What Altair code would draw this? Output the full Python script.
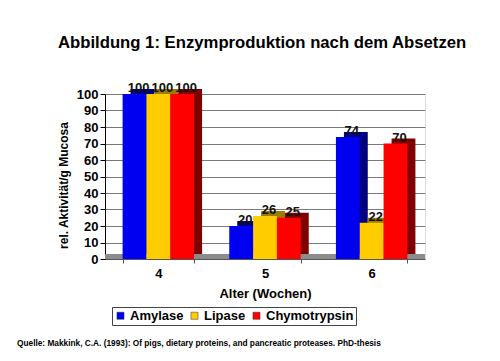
import altair as alt
import pandas as pd

groups = ["4", "5", "6"]
enzymes = ["Amylase", "Lipase", "Chymotrypsin"]
amylase = [100, 20, 74]
lipase = [100, 26, 22]
chymotrypsin = [100, 25, 70]

front_colors = ["#0000f0", "#ffcc00", "#ff0000"]
side_colors = ["#000080", "#9c7c00", "#800000"]

title_text = "Abbildung 1: Enzymproduktion nach dem Absetzen"
source_text = "Quelle: Makkink, C.A. (1993): Of pigs, dietary proteins, and pancreatic proteases. PhD-thesis"

rows = []
for e, vals, dc in zip(enzymes, [amylase, lipase, chymotrypsin], side_colors):
    for g, v in zip(groups, vals):
        rows.append({"group": g, "enzyme": e, "value": v, "dark": dc})
df = pd.DataFrame(rows)

FONT = "Liberation Sans"
W, H = 320, 165
P_IN, P_OUT = 0.33, 0.165
step = W / (len(groups) - P_IN + 2 * P_OUT)
band = step * (1 - P_IN)
DEPTH_X = 8

x_enc = alt.X("group:N", sort=groups,
              scale=alt.Scale(paddingInner=P_IN, paddingOuter=P_OUT),
              axis=alt.Axis(title="Alter (Wochen)", labelAngle=0, labelFontSize=13,
                            labelFontWeight="bold", labelColor="#000", labelPadding=4,
                            titleFontSize=13, titleFontWeight="bold", titleColor="#000",
                            titlePadding=7, tickBand="extent", tickSize=4,
                            tickColor="#555", domainColor="#555", grid=False))


def xo(shift):
    return alt.XOffset("enzyme:N", sort=enzymes,
                       scale=alt.Scale(type="band", paddingInner=0, paddingOuter=0,
                                       range=[shift, band + shift]))


y_scale = alt.Scale(domain=[0, 100], nice=False)
y_axis = alt.Axis(title="rel. Aktivität/g Mucosa", values=list(range(0, 101, 10)),
                  labelOverlap=False, tickCount=11, grid=True,
                  gridColor="#7a7a7a", gridWidth=1, gridOpacity=1,
                  labelFontSize=13, labelFontWeight="bold", labelColor="#000",
                  tickSize=5, tickColor="#000", domainColor="#000",
                  titleFontSize=12, titleFontWeight="bold",
                  titleColor="#000", titleAngle=-90, titleX=-38, titleY=91,
                  titleBaseline="alphabetic", titleAlign="center")
y_enc = alt.Y("value:Q", scale=y_scale, axis=y_axis)

base = alt.Chart(df)

floor = base.mark_rule(color="#8c8c8c", strokeWidth=5, yOffset=-2.5).encode(
    y=alt.Y(datum=0, scale=y_scale, axis=y_axis))

side = base.mark_bar(yOffset=-5).encode(
    x=x_enc, xOffset=xo(DEPTH_X), y=y_enc,
    color=alt.Color("dark:N", scale=None))

front = base.mark_bar().encode(
    x=x_enc, xOffset=xo(0), y=y_enc,
    color=alt.Color("enzyme:N", sort=enzymes,
                    scale=alt.Scale(domain=enzymes, range=front_colors),
                    legend=alt.Legend(title=None, orient="none", legendX=7, legendY=213,
                                      direction="horizontal", symbolType="square",
                                      symbolSize=50, symbolStrokeColor="#333",
                                      symbolStrokeWidth=0.5, labelOffset=3,
                                      labelFontSize=13, labelFontWeight="bold",
                                      labelColor="#000", columnPadding=4,
                                      strokeColor="#444", fillColor="#ffffff",
                                      padding=2)))

labels = base.mark_text(dx=4, dy=-2, baseline="alphabetic", fontSize=13,
                        fontWeight="bold", color="#111", font=FONT).encode(
    x=x_enc, xOffset=xo(0), y=y_enc, text="value:Q")

source = alt.Chart(pd.DataFrame({"t": [source_text]})).mark_text(
    align="left", baseline="alphabetic", fontSize=8.3, fontWeight="bold",
    font=FONT, color="#000").encode(
    x=alt.value(-88), y=alt.value(252), text="t:N")

chart = alt.layer(floor, side, front, labels, source).resolve_scale(
    xOffset="independent"
).properties(
    width=W, height=H,
    autosize=alt.AutoSizeParams(type="none"),
    padding={"left": 97, "top": 86, "right": 67, "bottom": 94},
    background="#ffffff",
    title=alt.TitleParams(title_text, fontSize=16.7, fontWeight="bold", font=FONT,
                          color="#000", anchor="start", frame="group", dx=-47, offset=30),
).configure_view(fill="#f8f1e7", stroke=None).configure(font=FONT)

chart.save("out.html", embed_options={"renderer": "svg", "actions": False})
